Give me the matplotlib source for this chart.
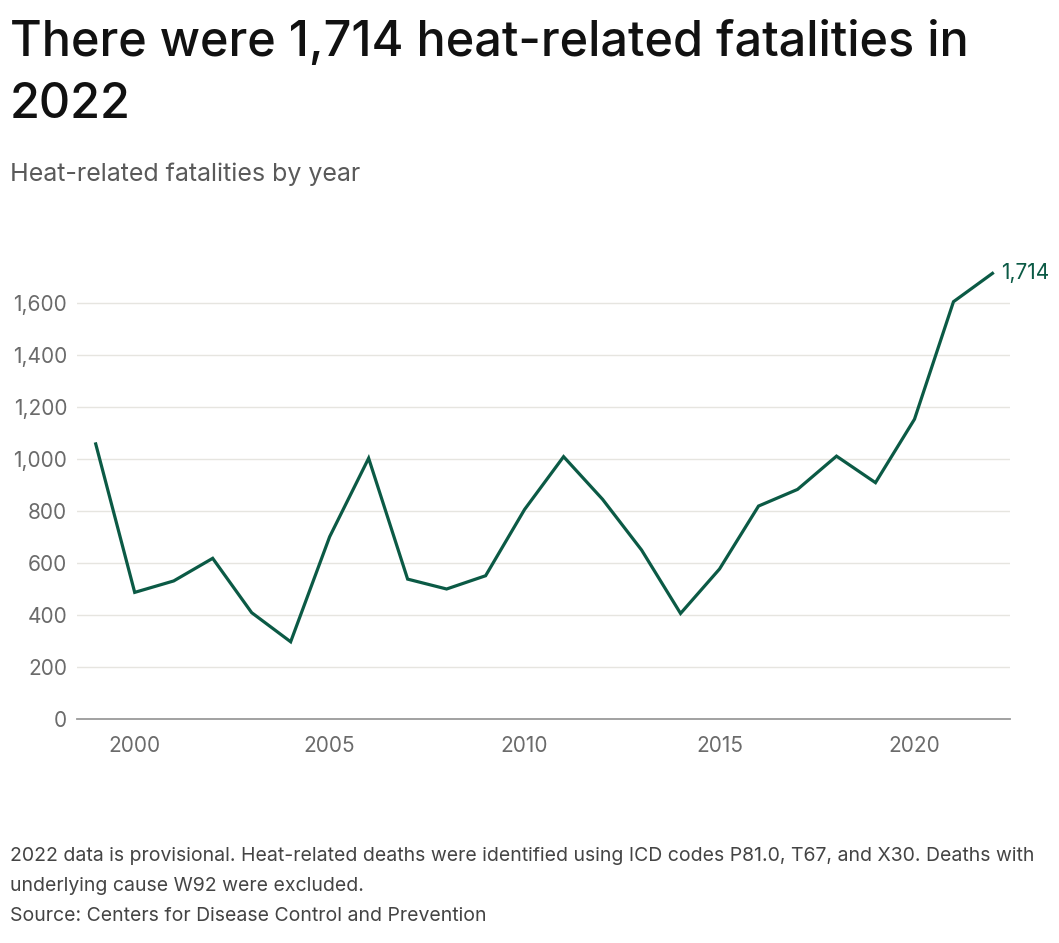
import matplotlib
matplotlib.use("Agg")
import matplotlib.pyplot as plt
from matplotlib.ticker import FuncFormatter

years = list(range(1999, 2023))
deaths = [1058, 487, 531, 618, 409, 297, 701, 1003, 538, 500, 551, 806,
          1009, 845, 650, 406, 577, 819, 883, 1011, 909, 1153, 1605, 1714]
y_ticks = [0, 200, 400, 600, 800, 1000, 1200, 1400, 1600]
x_ticks = [2000, 2005, 2010, 2015, 2020]

title = "There were 1,714 heat-related fatalities in\n2022"
subtitle = "Heat-related fatalities by year"
footer = ("2022 data is provisional. Heat-related deaths were identified using ICD codes P81.0, T67, and X30. Deaths with\n"
          "underlying cause W92 were excluded.\n"
          "Source: Centers for Disease Control and Prevention")

plt.rcParams['font.family'] = ['Inter', 'DejaVu Sans']

W, H = 1059, 943
fig = plt.figure(figsize=(W / 100, H / 100), dpi=100)
fig.patch.set_facecolor('white')

green = '#0b5a45'
ax = fig.add_axes([77 / W, (H - 719) / H, (1010 - 77) / W, 455 / H])
ax.plot(years, deaths, color=green, lw=2.3, solid_joinstyle='miter', clip_on=False, zorder=3)
ax.set_xlim(1998.52, 2022.45)
ax.set_ylim(0, 1750)
ax.set_yticks(y_ticks)
ax.set_xticks(x_ticks)
ax.yaxis.set_major_formatter(FuncFormatter(lambda v, p: f"{int(v):,}"))
ax.grid(axis='y', color='#e6e5e0', lw=1.0)
ax.set_axisbelow(True)
for s in ['top', 'right', 'left']:
    ax.spines[s].set_visible(False)
ax.spines['bottom'].set_color('#9a9a9a')
ax.spines['bottom'].set_linewidth(1.3)
ax.tick_params(axis='both', length=0, labelsize=15, labelcolor='#6b6b6b')
ax.tick_params(axis='y', pad=7)
ax.tick_params(axis='x', pad=12)

ax.annotate(f"{deaths[-1]:,}", xy=(years[-1], deaths[-1]), xytext=(6, 0),
            textcoords='offset points', color=green, fontsize=15,
            va='center', ha='left', annotation_clip=False)

fig.text(10 / W, 1 - 20 / H, title, fontsize=35, color='#111111', va='top', ha='left',
         fontweight='medium', linespacing=1.45)
fig.text(10 / W, 1 - 163 / H, subtitle, fontsize=18, color='#5a5a5a', va='top', ha='left')
fig.text(10 / W, 1 - 847 / H, footer, fontsize=14, color='#444444', va='top', ha='left',
         linespacing=1.85)

fig.savefig('out.png', dpi=100, facecolor='white')
